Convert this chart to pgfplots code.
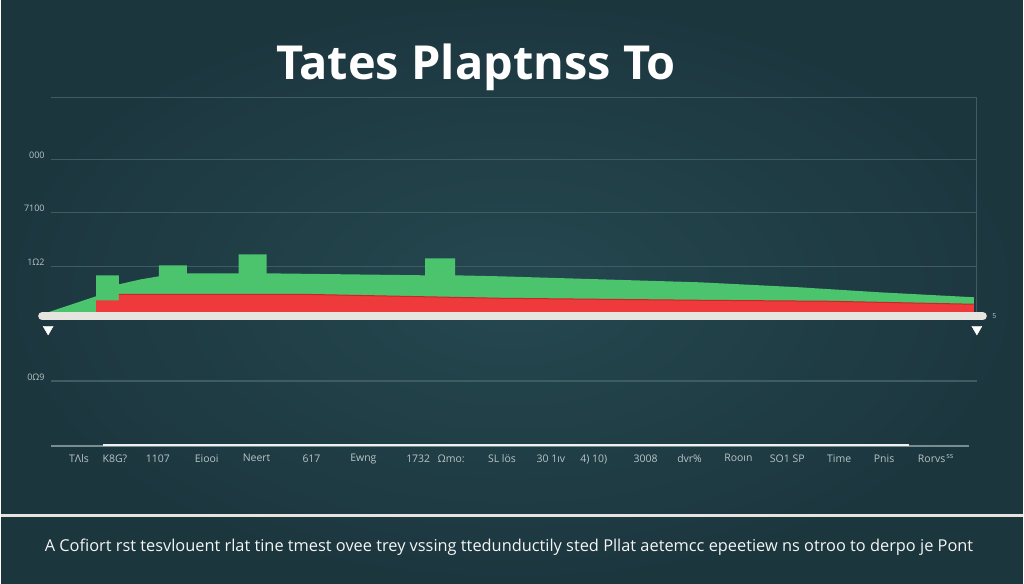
\documentclass[border=0pt]{standalone}
\usepackage{pgfplots}
\pgfplotsset{compat=1.18}
\usepackage{fontspec}
\setmainfont{Open Sans}
\definecolor{bgout}{HTML}{1C363E}
\definecolor{bgin}{HTML}{254850}
\definecolor{gridc}{HTML}{3D5C63}
\definecolor{grn}{HTML}{4CC46E}
\definecolor{rd}{HTML}{EE3A3A}
\definecolor{rdd}{HTML}{C42828}
\definecolor{barw}{HTML}{E6E4DE}
\definecolor{tickc}{HTML}{B9C4C6}
\begin{document}
\begin{tikzpicture}[x=1pt,y=1pt]
\shade[inner color=bgin, outer color=bgout] (0,0) rectangle (1024,585);
\node[anchor=base, text=white, inner sep=0pt, font=\fontsize{47}{52}\selectfont\bfseries] at (476,505) {Tates Plaptnss To};
\draw[color=barw, line width=2.5pt] (0,68) -- (1024,68);
\node[anchor=base, text=white!92!gray, inner sep=0pt, font=\fontsize{16.4}{19}\selectfont] at (509,32) {A Cofiort rst tesvlouent rlat tine tmest ovee trey vssing ttedunductily sted Pllat aetemcc epeetiew ns otroo to derpo je Pont};
\begin{axis}[
  at={(50pt,138pt)}, anchor=south west, scale only axis,
  width=928pt, height=349pt,
  xmin=50, xmax=978, ymin=-134, ymax=215,
  clip=false,
  axis line style={draw=none},
  tick style={draw=none},
  ytick={-69,46,100,153,215},
  yticklabels={0Ω9,1Ω2,7100,000,{}},
  ymajorgrids,
  grid style={gridc, line width=1.2pt},
  yticklabel style={font=\fontsize{9}{10}\selectfont, text=tickc, yshift=4pt, xshift=-3pt},
  xtick={78,114,157,206,256,311,363,418,451,502,551,594,646,690,739,788,840,885,937},
  xticklabels={TΛls,K8G?,1107,Eiooi,Neert,617,Ewng,1732,Ωmo:,SL lös,30 1ıv,4) 10),3008,dvr\%,Rooın,SO1 SP,Time,Pnis,{Rorvs\textsuperscript{\,ss}}},
  xticklabel style={font=\fontsize{10.5}{12}\selectfont, text=tickc, yshift=-5pt},
]
% right frame line
\addplot[gridc, line width=1.2pt] coordinates {(978,215) (978,0)};
% bottom axis lines
\addplot[gridc!70!white, line width=1.2pt] coordinates {(50,-134) (970,-134)};
\addplot[white!88!gray, line width=1.6pt] coordinates {(102,-133) (910,-133)};
% green area
\addplot[fill=grn, draw=none] coordinates {
 (47,0) (95,16) (95,37) (118,37) (118,28) (140,33) (158,36) (158,47) (186,47) (186,39)
 (238,39) (238,58) (266,58) (266,39) (425,37) (425,54) (455,54) (455,37) (500,36)
 (600,33) (700,30) (800,25) (880,20) (975,15) (975,0)} \closedcycle;
% red area
\addplot[fill=rd, draw=none] coordinates {
 (95,0) (95,12) (118,12) (118,18) (300,18) (500,14) (700,12) (830,11) (975,8) (975,0)} \closedcycle;
\addplot[rdd, line width=1pt] coordinates {(118,18) (300,18) (500,14) (700,12) (830,11) (975,8)};
% white baseline bar
\addplot[barw, line width=8pt, line cap=round] coordinates {(41,-4) (984,-4)};
% triangles
\addplot[only marks, mark=triangle*, mark size=5.8pt, mark options={rotate=180, fill=white, draw=white}] coordinates {(47,-17) (978,-17)};
\node[anchor=west, font=\fontsize{7}{8}\selectfont, text=tickc] at (axis cs:990,-4) {5};
\end{axis}
\end{tikzpicture}
\end{document}
